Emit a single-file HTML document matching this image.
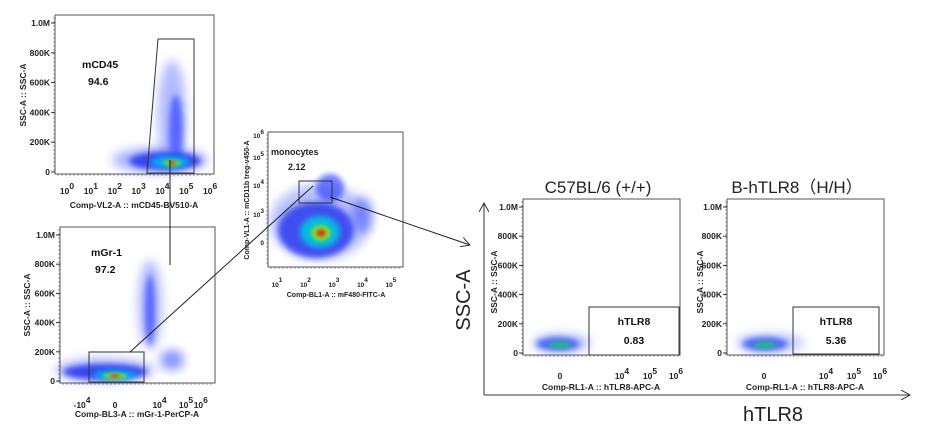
<!DOCTYPE html>
<html><head><meta charset="utf-8">
<style>
html,body{margin:0;padding:0;background:#fff;}
svg{display:block;font-family:"Liberation Sans",Arial,sans-serif;}
.t{font-size:8.5px;font-weight:bold;fill:#222;}
.s{font-size:6.5px;font-weight:bold;fill:#222;}
.lab{font-size:8.5px;font-weight:bold;fill:#222;}
.g{font-size:10.5px;font-weight:bold;fill:#111;}
</style></head>
<body>
<svg id="fig" width="926" height="445" viewBox="0 0 926 445">
<defs>
<filter id="b0" x="-50%" y="-50%" width="200%" height="200%"><feGaussianBlur stdDeviation="5"/></filter>
<filter id="b1" x="-50%" y="-50%" width="200%" height="200%"><feGaussianBlur stdDeviation="3"/></filter>
<filter id="b2" x="-50%" y="-50%" width="200%" height="200%"><feGaussianBlur stdDeviation="1.5"/></filter>
<marker id="ah" markerWidth="10" markerHeight="10" refX="9" refY="5" orient="auto"><path d="M0,0 L9,5 L0,10" fill="none" stroke="#333" stroke-width="1"/></marker>
</defs>
<g id="clouds"></g>
<g id="frames"></g>

<g>
<polygon points="158,39 194,39 194,173 147,173" fill="none" stroke="#333" stroke-width="1"/>
<text x="82" y="68" class="g">mCD45</text>
<text x="88" y="85" class="g">94.6</text>
<text x="134" y="208" class="lab" text-anchor="middle">Comp-VL2-A :: mCD45-BV510-A</text>
<text x="26" y="95" class="lab" text-anchor="middle" transform="rotate(-90 26 95)">SSC-A :: SSC-A</text>
</g>
<g>
<rect x="89" y="352" width="55" height="30" fill="none" stroke="#333"/>
<text x="91" y="256" class="g">mGr-1</text>
<text x="95" y="273" class="g">97.2</text>
<text x="137" y="417" class="lab" text-anchor="middle">Comp-BL3-A :: mGr-1-PerCP-A</text>
<text x="30" y="305" class="lab" text-anchor="middle" transform="rotate(-90 30 305)">SSC-A :: SSC-A</text>
</g>
<g>
<rect x="299" y="181" width="33" height="22" fill="none" stroke="#333"/>
<text x="271" y="155" class="t" style="font-size:9px">monocytes</text>
<text x="288" y="170" class="t" style="font-size:9px">2.12</text>
<text x="336" y="297" class="s" style="font-size:7px" text-anchor="middle">Comp-BL1-A :: mF480-FITC-A</text>
<text x="249" y="200" class="s" style="font-size:7px" text-anchor="middle" transform="rotate(-90 249 200)">Comp-VL1-A :: mCD11b treg-v450-A</text>
</g>
<g>
<text x="598" y="193" text-anchor="middle" style="font-size:17px;fill:#222">C57BL/6 (+/+)</text>
<rect x="589" y="307" width="90" height="48" fill="none" stroke="#333"/>
<text x="634" y="325" class="g" text-anchor="middle">hTLR8</text>
<text x="634" y="344" class="g" text-anchor="middle">0.83</text>
<text x="601" y="390" class="lab" text-anchor="middle">Comp-RL1-A :: hTLR8-APC-A</text>
<text x="497" y="282" class="lab" text-anchor="middle" transform="rotate(-90 497 282)">SSC-A :: SSC-A</text>
</g>
<g>
<text x="797" y="193" text-anchor="middle" style="font-size:17px;fill:#222;font-family:'Liberation Sans','Noto Sans CJK SC',sans-serif">B-hTLR8（H/H）</text>
<rect x="793" y="307" width="86" height="47" fill="none" stroke="#333"/>
<text x="836" y="325" class="g" text-anchor="middle">hTLR8</text>
<text x="836" y="344" class="g" text-anchor="middle">5.36</text>
<text x="805" y="390" class="lab" text-anchor="middle">Comp-RL1-A :: hTLR8-APC-A</text>
<text x="703" y="282" class="lab" text-anchor="middle" transform="rotate(-90 703 282)">SSC-A :: SSC-A</text>
</g>

<line x1="170" y1="160" x2="170" y2="265" stroke="#222"/>
<line x1="130" y1="352" x2="313" y2="186" stroke="#222"/>
<line x1="330" y1="197" x2="470" y2="245" stroke="#222" marker-end="url(#ah)"/>
<line x1="484" y1="395" x2="484" y2="203" stroke="#333" marker-end="url(#ah)"/>
<line x1="484" y1="395" x2="910" y2="395" stroke="#333" marker-end="url(#ah)"/>
<text x="470" y="300" text-anchor="middle" transform="rotate(-90 470 300)" style="font-size:20px;fill:#222">SSC-A</text>
<text x="773" y="421" text-anchor="middle" style="font-size:20px;fill:#222">hTLR8</text>
</svg>
<script>
const NS='http://www.w3.org/2000/svg';
const svg=document.getElementById('fig');
const framesG=document.getElementById('frames');
const cloudsG=document.getElementById('clouds');
const gateNames=['mCD45','mGr-1','monocytes','hTLR8 C57','hTLR8 B-hTLR8'];
const gateValues=[94.6,97.2,2.12,0.83,5.36];
const panels=[
 {n:'mcd45',x0:55,x1:214,y0:15,y1:174},
 {n:'mgr1',x0:60,x1:215,y0:227,y1:383},
 {n:'monocytes',x0:268,x1:403,y0:132,y1:267},
 {n:'c57',x0:523,x1:680,y0:199,y1:355},
 {n:'bh',x0:727,x1:884,y0:199,y1:355}
];
const sscTicks=['0','200K','400K','600K','800K','1.0M'];
const sscVals=[0,200,400,600,800,1000];
const xTicksP1=['0','1','2','3','4','5','6'];
const xTicksP2=['-10^4','0','10^4','10^5','10^6'];
const xPosP2=[-1,0,1.35,2.15,2.6];
const xTicksP3=['1','2','3','4','5'];
const yTicksP3=['0','3','4','5','6'];
const xTicksTLR=['0','4','5','6'];
const xPosTLR=[0,1.55,2.25,2.9];

function el(tag,attrs,parent,text){const e=document.createElementNS(NS,tag);for(const k in attrs)e.setAttribute(k,attrs[k]);if(text!==undefined)e.textContent=text;(parent||svg).appendChild(e);return e;}

panels.forEach(p=>{
 const r=el('rect',{x:p.x0,y:p.y0,width:p.x1-p.x0,height:p.y1-p.y0,fill:'none',stroke:'#555','stroke-width':1},framesG);
 
 
 for(let x=p.x0+3;x<p.x1;x+=4){el('line',{x1:x,x2:x,y1:p.y1,y2:p.y1+2,stroke:'#555','stroke-width':0.6},framesG);}
 for(let y=p.y0+3;y<p.y1;y+=4){el('line',{x1:p.x0-2,x2:p.x0,y1:y,y2:y,stroke:'#555','stroke-width':0.6},framesG);}
});
function sscAxis(p){
 sscVals.forEach((v,i)=>{
  const y=p.y1-2-(v/1000)*(p.y1-p.y0-10);
  el('line',{x1:p.x0-4,x2:p.x0,y1:y,y2:y,stroke:'#333'},framesG);
  const t=el('text',{x:p.x0-5,y:y+3,'text-anchor':'end',class:'t'},framesG,sscTicks[i]);
  
  
 });
}
[0,1,3,4].forEach(i=>sscAxis(panels[i]));
function pow(x,y,exp,base,cls){
 const t=el('text',{x:x,y:y,'text-anchor':'middle',class:cls||'t'},framesG);
 
 
 const a=document.createElementNS(NS,'tspan');a.textContent=base;t.appendChild(a);
 if(exp!==null){const b=document.createElementNS(NS,'tspan');b.setAttribute('dy','-5');b.textContent=exp;t.appendChild(b);}
}
xTicksP1.forEach((e,i)=>{const p=panels[0];const x=p.x0+12+i*(p.x1-p.x0+8)/7;pow(x,194,e,'10');});
xTicksP2.forEach((lab,i)=>{const x=115+xPosP2[i]*33;
 if(lab==='0')pow(x,408,null,'0');else if(lab==='-10^4')pow(x,408,'4','-10');else pow(x,408,lab.slice(3),'10');});
xTicksP3.forEach((e,i)=>{const x=277+i*28.5;pow(x,287,e,'10','s');});
yTicksP3.forEach((e,i)=>{const y=[245,217,188,160,138][i];
 if(e==='0'){const t=el('text',{x:264,y:y,'text-anchor':'end',class:'s'},framesG,'0');}
 else{const t=el('text',{x:264,y:y,'text-anchor':'end',class:'s'},framesG);
  const a=document.createElementNS(NS,'tspan');a.textContent='10';t.appendChild(a);const b=document.createElementNS(NS,'tspan');b.setAttribute('dy','-4');b.textContent=e;t.appendChild(b);}});
[3,4].forEach(k=>{const base=k===3?560:764;
 xTicksTLR.forEach((e,i)=>{const x=base+xPosTLR[i]*40;if(e==='0')pow(x,379,null,'0');else pow(x,379,e,'10');});});

// density clouds: [cx, cy, rx, ry, color, blurLevel, opacity]
const cloudSpecs=[
 [172,115,14,55,'#6677ff',0,0.5],[176,130,7,35,'#3344ff',1,0.7],[160,160,48,13,'#6677ff',0,0.55],[165,161,36,9,'#2233ee',1,0.85],[170,162,20,6,'#00bbee',1,0.9],[172,163,9,3.5,'#66dd33',2,0.9],[172,163,3.5,2,'#ee3311',2,0.9],
 [150,305,12,45,'#6677ff',0,0.5],[150,310,5,35,'#3344ff',1,0.7],[105,370,50,12,'#6677ff',0,0.5],[105,372,42,8,'#2233ee',1,0.85],[172,360,12,10,'#5566ff',0,0.7],[115,375,22,5,'#00bbee',1,0.9],[115,376,12,3,'#88dd22',2,0.9],[115,376,5,1.5,'#ee2211',2,0.9],
 [320,222,50,38,'#6677ff',0,0.45],[316,230,38,28,'#2233ee',1,0.8],[330,188,14,14,'#3344ff',1,0.7],[362,215,10,18,'#5566ff',0,0.7],[320,232,20,16,'#00c8dd',1,0.9],[321,233,10,8,'#88dd22',2,0.9],[321,233,4.5,3.5,'#ee2211',2,0.9],
 [562,343,30,10,'#7788ff',0,0.45],[558,344,22,7,'#3355ee',1,0.8],[560,345,11,4,'#22bb88',2,0.8],
 [770,343,34,10,'#7788ff',0,0.45],[765,344,23,7,'#3355ee',1,0.8],[765,345,11,4,'#22bb88',2,0.8]
];
const filters=['url(#b0)','url(#b1)','url(#b2)'];
cloudSpecs.forEach(c=>{
 const e=el('ellipse',{cx:c[0],cy:c[1],rx:c[2],ry:c[3],fill:c[4],opacity:c[6],filter:filters[c[5]]},cloudsG);
 
 
});
</script>
</body></html>
